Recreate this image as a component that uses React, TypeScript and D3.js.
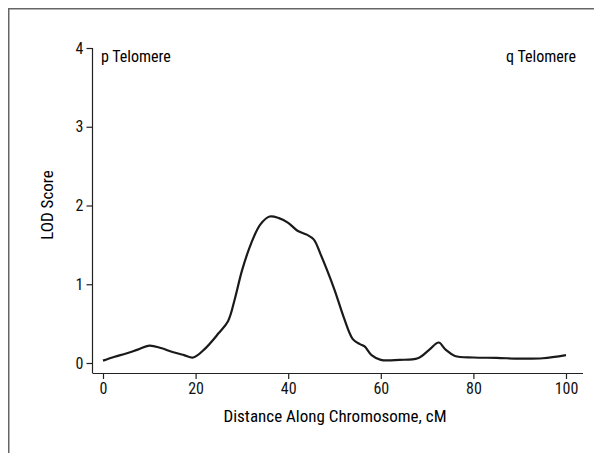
import * as d3 from "d3";
import { useEffect, useRef } from "react";

// LOD score along the chromosome (cM, score)
const positions = [0, 2.5, 5, 7.5, 10, 12.5, 15, 17.5, 19.5, 22, 25, 27, 28.5, 30, 32, 34, 36, 38, 40, 42, 44, 45.5, 47, 50, 52, 54, 55.5, 56.5, 58, 60, 64, 68, 70.5, 72.5, 74, 76, 80, 85, 90, 95, 100];
const lodScores = [0.03, 0.08, 0.12, 0.17, 0.22, 0.19, 0.14, 0.1, 0.07, 0.18, 0.38, 0.53, 0.82, 1.17, 1.52, 1.76, 1.86, 1.84, 1.78, 1.68, 1.63, 1.57, 1.38, 0.93, 0.58, 0.3, 0.24, 0.21, 0.1, 0.04, 0.04, 0.06, 0.17, 0.26, 0.17, 0.09, 0.07, 0.065, 0.055, 0.06, 0.1];
const xTicks = [0, 20, 40, 60, 80, 100];
const yTicks = [0, 1, 2, 3, 4];

const FONT = "'Roboto Condensed', 'Liberation Sans Narrow', sans-serif";

const App = () => {
    const ref = useRef(null);
    const width = 594;
    const height = 445;

    useEffect(() => {
        const svg = d3.select(ref.current);
        svg.selectAll("*").remove();

        // outer frame (left and top edges)
        svg.append("path")
            .attr("d", `M0.75,${height} V0.75 H${width}`)
            .attr("fill", "none")
            .attr("stroke", "#666")
            .attr("stroke-width", 1.5);

        const x = d3.scaleLinear().domain([0, 100]).range([95, 558]);
        const y = d3.scaleLinear().domain([0, 4]).range([355, 40]);
        const axisY = 365;
        const axisX = 84.5;

        const xAxis = svg.append("g")
            .attr("transform", `translate(0, ${axisY})`)
            .call(d3.axisBottom(x).tickValues(xTicks).tickSizeOuter(0).tickSize(6).tickPadding(4));
        xAxis.select(".domain").attr("d", `M${axisX},0.5H575`);

        const yAxis = svg.append("g")
            .attr("transform", `translate(${axisX}, 0)`)
            .call(d3.axisLeft(y).tickValues(yTicks).tickFormat(d3.format("d")).tickSizeOuter(0).tickSize(6).tickPadding(3));
        yAxis.select(".domain").attr("d", `M0,${y(4)}V${axisY}`);

        svg.selectAll(".tick text")
            .attr("font-family", FONT)
            .attr("font-size", 16)
            .attr("fill", "#111");
        svg.selectAll(".domain, .tick line").attr("stroke", "#222").attr("stroke-width", 1.2);

        const line = d3.line()
            .x((d, i) => x(positions[i]))
            .y((d) => y(d))
            .curve(d3.curveCatmullRom.alpha(0.5));

        svg.append("path")
            .datum(lodScores)
            .attr("d", line)
            .attr("fill", "none")
            .attr("stroke", "#1a1a1a")
            .attr("stroke-width", 2.2);

        svg.append("text")
            .attr("x", 93)
            .attr("y", 54)
            .attr("font-family", FONT)
            .attr("font-size", 16)
            .text("p Telomere");

        svg.append("text")
            .attr("x", 568)
            .attr("y", 54)
            .attr("text-anchor", "end")
            .attr("font-family", FONT)
            .attr("font-size", 16)
            .text("q Telomere");

        svg.append("text")
            .attr("x", 327)
            .attr("y", 414)
            .attr("text-anchor", "middle")
            .attr("font-family", FONT)
            .attr("font-size", 17)
            .text("Distance Along Chromosome, cM");

        svg.append("text")
            .attr("transform", `translate(45, 197) rotate(-90)`)
            .attr("text-anchor", "middle")
            .attr("font-family", FONT)
            .attr("font-size", 17)
            .text("LOD Score");
    }, []);

    return <svg ref={ref} width={width} height={height} style={{ display: "block", background: "#fff" }}></svg>;
};

export default App;
